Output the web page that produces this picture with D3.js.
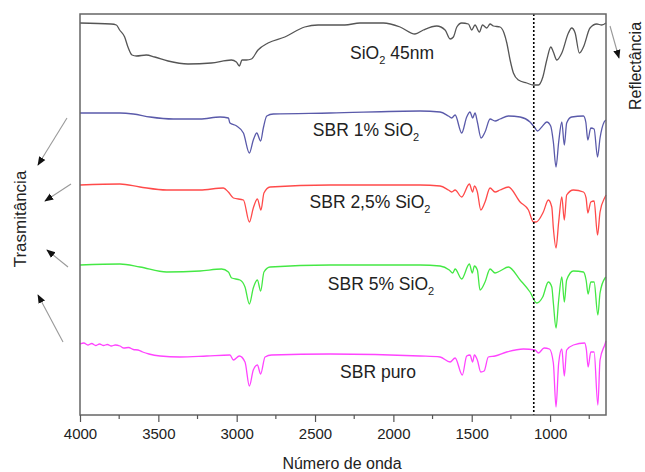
<!DOCTYPE html>
<html>
<head>
<meta charset="utf-8">
<script src="https://cdn.jsdelivr.net/npm/d3@7"></script>
<style>
  body { margin: 0; background: #fff; }
  svg { display: block; font-family: "Liberation Sans", Arial, sans-serif; }
</style>
</head>
<body>
<div id="chart"></div>
<script>
const width = 645;
const height = 472;
const margin = { top: 14, right: 39, bottom: 57, left: 80 };

// spectra: [wavenumber (cm-1), offset signal (a.u.)]
const sio2 = [[4000,392],[3802,391],[3768,390],[3747,385],[3715,378],[3694,368],[3668,360],[3640,359],[3577,360],[3523,358],[3438,354],[3311,351],[3162,352],[3034,355],[3002,353],[2983,349],[2966,355],[2938,355],[2906,356],[2864,365],[2800,372],[2693,378],[2566,388],[2481,390],[2310,390],[2213,392],[2064,392],[1957,388],[1862,381],[1809,385],[1723,389],[1670,385],[1638,376],[1617,378],[1595,388],[1564,392],[1521,391],[1500,385],[1479,390],[1451,383],[1431,390],[1404,387],[1383,391],[1362,389],[1319,388],[1294,382],[1276,372],[1255,355],[1234,342],[1202,335],[1149,332],[1106,330],[1074,330],[1046,338],[1021,355],[995,368],[979,363],[957,355],[925,362],[883,382],[862,387],[840,382],[813,362],[787,368],[745,387],[702,391],[670,390],[643,392]];

const sbr1 = [[4000,302],[3745,302],[3660,301],[3553,298],[3404,296],[3234,296],[3106,298],[3053,297],[3043,292],[3000,289],[2957,282],[2919,262],[2894,275],[2872,282],[2847,274],[2830,287],[2808,299],[2766,301],[2404,302],[1830,304],[1702,303],[1649,299],[1628,297],[1606,300],[1564,282],[1532,298],[1511,303],[1494,297],[1479,302],[1464,293],[1440,277],[1415,283],[1383,296],[1351,294],[1319,296],[1266,299],[1191,298],[1128,293],[1096,287],[1081,284],[1053,288],[1021,293],[996,289],[979,273],[962,248],[945,273],[925,293],[909,270],[894,292],[862,298],[787,299],[772,293],[759,275],[740,287],[719,286],[697,258],[681,277],[655,293],[643,295]];

const sbr25 = [[4000,230],[3745,231],[3617,228],[3447,225],[3234,225],[3085,227],[3053,223],[3021,217],[2957,215],[2919,193],[2894,207],[2868,216],[2845,205],[2826,222],[2787,228],[2404,230],[1830,230],[1702,229],[1649,225],[1628,223],[1606,225],[1564,218],[1515,231],[1494,223],[1483,229],[1464,223],[1442,205],[1415,213],[1383,227],[1351,223],[1319,225],[1266,228],[1191,213],[1138,205],[1106,193],[1089,193],[1043,203],[1011,215],[989,208],[979,187],[962,167],[945,193],[925,218],[909,195],[894,220],[851,225],[787,223],[770,217],[759,202],[740,213],[719,214],[697,180],[681,203],[649,218],[643,220]];

const sbr5 = [[4000,150],[3745,151],[3617,148],[3447,143],[3234,144],[3096,146],[3053,143],[3032,137],[2979,135],[2947,128],[2919,111],[2894,127],[2868,135],[2847,124],[2826,143],[2787,148],[2404,150],[1830,150],[1702,149],[1643,145],[1621,142],[1606,146],[1564,136],[1515,151],[1496,142],[1483,149],[1464,145],[1447,125],[1415,133],[1383,146],[1351,142],[1319,144],[1266,148],[1191,135],[1128,123],[1085,112],[1047,118],[1011,133],[989,128],[979,112],[962,87],[945,115],[925,138],[909,113],[894,135],[851,144],[787,143],[770,135],[757,121],[740,133],[719,133],[695,100],[681,122],[649,137],[643,138]];

const sbrPuro = [[4000,71],[3975,72],[3950,70],[3925,71.5],[3900,69.5],[3875,71],[3850,69.5],[3825,70.5],[3800,69],[3775,70],[3745,69],[3720,67],[3690,67.5],[3660,65.5],[3630,65],[3600,63],[3560,61],[3489,59],[3362,58],[3191,59],[3043,60],[3021,55],[2983,59],[2947,53],[2919,29],[2894,45],[2868,50],[2847,41],[2819,58],[2777,60],[2404,61],[1830,59],[1702,58],[1638,53],[1606,57],[1560,40],[1532,59],[1511,60],[1494,53],[1483,60],[1464,55],[1442,43],[1421,44],[1394,58],[1351,59],[1277,63],[1170,66],[1096,65],[1074,62],[1038,67],[1004,66],[979,52],[962,8],[945,52],[925,66],[909,39],[894,65],[851,70],[779,72],[768,65],[757,48],[740,63],[719,63],[695,10],[681,55],[649,71],[643,74]];

const seriesNames = ['SiO2 45nm', 'SBR 1% SiO2', 'SBR 2,5% SiO2', 'SBR 5% SiO2', 'SBR puro'];
const seriesData = [sio2, sbr1, sbr25, sbr5, sbrPuro];
const seriesColors = ['#555555', '#5a5aaa', '#ff4a4a', '#44e844', '#ff44ff'];

const xTicks = [4000, 3500, 3000, 2500, 2000, 1500, 1000];
const xMinorTicks = [3750, 3250, 2750, 2250, 1750, 1250, 750];
const siShoulder = 1104;

const svg = d3.select('#chart').append('svg').attr('width', width).attr('height', height);

const x = d3.scaleLinear().domain([4000, 643]).range([margin.left, width - margin.right]);
const y = d3.scaleLinear().domain([0, 401]).range([height - margin.bottom, margin.top]);

// spectra
const line = d3.line().x(d => x(d[0])).y(d => y(d[1])).curve(d3.curveMonotoneX);
svg.selectAll('.spectrum')
  .data(seriesData)
  .enter()
  .append('path')
  .attr('class', 'spectrum')
  .attr('d', line)
  .attr('fill', 'none')
  .attr('stroke', (d, i) => seriesColors[i])
  .attr('stroke-width', 1.3)
  .attr('stroke-linejoin', 'round');

// dotted line at the Si-O shoulder
svg.append('line')
  .attr('x1', x(siShoulder)).attr('x2', x(siShoulder))
  .attr('y1', y(401)).attr('y2', y(0))
  .attr('stroke', '#000')
  .attr('stroke-width', 1.6)
  .attr('stroke-dasharray', '2,2');

// frame
svg.append('rect')
  .attr('x', margin.left).attr('y', margin.top)
  .attr('width', width - margin.left - margin.right)
  .attr('height', height - margin.top - margin.bottom)
  .attr('fill', 'none')
  .attr('stroke', '#666')
  .attr('stroke-width', 1.5);

// x axis
const xAxis = svg.append('g')
  .attr('transform', `translate(0,${height - margin.bottom})`)
  .call(d3.axisBottom(x).tickValues(xTicks).tickSize(7).tickPadding(6).tickFormat(d3.format('d')));
xAxis.select('.domain').remove();
xAxis.selectAll('line').attr('stroke', '#555').attr('stroke-width', 1.2);
xAxis.selectAll('text').attr('font-size', 15).attr('fill', '#222')
  .attr('font-family', '"Liberation Sans", Arial, sans-serif');

svg.append('g')
  .selectAll('line')
  .data(xMinorTicks)
  .enter()
  .append('line')
  .attr('x1', d => x(d)).attr('x2', d => x(d))
  .attr('y1', height - margin.bottom).attr('y2', height - margin.bottom + 4)
  .attr('stroke', '#555')
  .attr('stroke-width', 1.2);

svg.append('text')
  .attr('x', 342).attr('y', 469)
  .attr('text-anchor', 'middle')
  .attr('font-size', 16)
  .attr('fill', '#222')
  .text('Número de onda');

// curve labels with subscripts
const labelPos = [[392, 59], [366, 136], [370, 208], [381, 290], [378, 378]];
seriesNames.forEach((name, i) => {
  const t = svg.append('text')
    .attr('x', labelPos[i][0]).attr('y', labelPos[i][1])
    .attr('text-anchor', 'middle')
    .attr('font-size', 17.5)
    .attr('fill', '#222');
  const parts = name.split('SiO2');
  if (parts.length === 1) {
    t.text(name);
  } else {
    t.append('tspan').text(parts[0] + 'SiO');
    t.append('tspan').attr('font-size', 11).attr('dy', 5).text('2');
    if (parts[1]) t.append('tspan').attr('dy', -5).text(parts[1]);
  }
});

// axis side titles
svg.append('text')
  .attr('transform', 'translate(26,219) rotate(-90)')
  .attr('text-anchor', 'middle')
  .attr('font-size', 17)
  .attr('fill', '#222')
  .text('Trasmitância');

svg.append('text')
  .attr('transform', 'translate(641,66) rotate(-90)')
  .attr('text-anchor', 'middle')
  .attr('font-size', 16)
  .attr('fill', '#222')
  .text('Reflectância');

// arrows
svg.append('defs').append('marker')
  .attr('id', 'head')
  .attr('viewBox', '0 0 10 10')
  .attr('refX', 9).attr('refY', 5)
  .attr('markerWidth', 9).attr('markerHeight', 9)
  .attr('markerUnits', 'userSpaceOnUse')
  .attr('orient', 'auto')
  .append('path')
  .attr('d', 'M0,1 L10,5 L0,9 Z')
  .attr('fill', '#111');

const arrows = [[67, 118, 38, 165], [71, 184, 45, 201], [68, 267, 47, 250], [63, 342, 38, 295], [610, 26, 619, 58]];
svg.selectAll('.arrow')
  .data(arrows)
  .enter()
  .append('line')
  .attr('class', 'arrow')
  .attr('x1', d => d[0]).attr('y1', d => d[1])
  .attr('x2', d => d[2]).attr('y2', d => d[3])
  .attr('stroke', '#999')
  .attr('stroke-width', 1.1)
  .attr('marker-end', 'url(#head)');
</script>
</body>
</html>
